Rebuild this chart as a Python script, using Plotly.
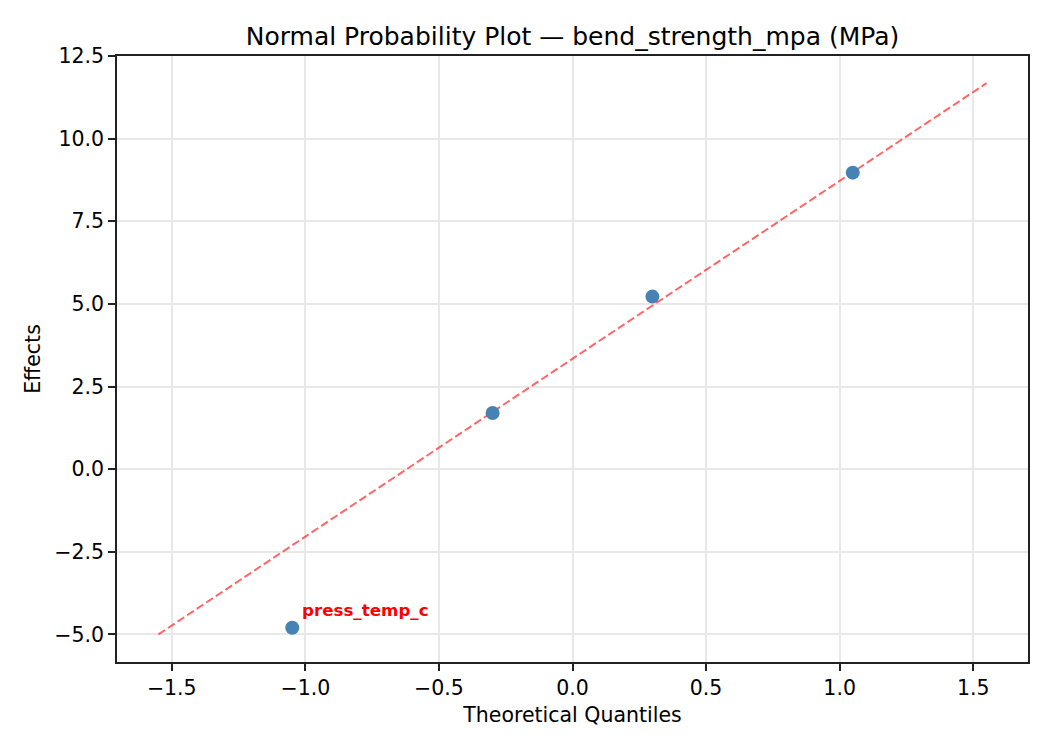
import plotly.graph_objects as go

# theoretical quantiles and effects
quantiles = [-1.049, -0.299, 0.299, 1.049]
effects = [-4.80, 1.70, 5.22, 8.97]
point_labels = ['press_temp_c', '', '', '']

# reference line end points
line_x = [-1.55, 1.55]
line_y = [-5.0, 11.68]

x_ticks = [-1.5, -1.0, -0.5, 0.0, 0.5, 1.0, 1.5]
y_ticks = [-5.0, -2.5, 0.0, 2.5, 5.0, 7.5, 10.0, 12.5]

FONT = 'DejaVu Sans'
# the page puts the figure 8px in from the corner, so the margins take that off
OFF = 8

fig = go.Figure()

fig.add_trace(go.Scatter(
    x=line_x, y=line_y, mode='lines',
    line=dict(color='rgba(255,0,0,0.6)', width=2, dash='8px,3.5px'),
    showlegend=False, hoverinfo='skip'))

fig.add_trace(go.Scatter(
    x=quantiles, y=effects, mode='markers',
    marker=dict(color='#4682b4', size=14),
    showlegend=False))

# label the significant effect
for q, e, lab in zip(quantiles, effects, point_labels):
    if lab:
        fig.add_annotation(x=q, y=e, text='<b>' + lab + '</b>', showarrow=False,
                           xanchor='left', yanchor='bottom', xshift=8, yshift=6,
                           font=dict(family=FONT, size=16.7, color='red'))

axis_common = dict(
    showline=True, linecolor='#222222', linewidth=1.7, mirror=True,
    ticks='outside', ticklen=7, tickwidth=1.7, tickcolor='#222222',
    showgrid=True, gridcolor='#e8e8e8', gridwidth=1.5,
    zeroline=False, tickfont=dict(family=FONT, size=20.5, color='black'))

fig.update_xaxes(range=[-1.705, 1.705], tickvals=x_ticks,
                 ticktext=[f'{v:.1f}'.replace('-', '\u2212') for v in x_ticks],
                 title=dict(text='Theoretical Quantiles', font=dict(family=FONT, size=20.5, color='black'), standoff=8),
                 **axis_common)
fig.update_yaxes(range=[-5.835, 12.5], tickvals=y_ticks,
                 ticktext=[f'{v:.1f}'.replace('-', '\u2212') for v in y_ticks],
                 title=dict(text='Effects', font=dict(family=FONT, size=20.5, color='black'), standoff=8),
                 **axis_common)

fig.update_layout(
    width=1050, height=750,
    margin=dict(l=117 - OFF, r=22 + OFF, t=56 - OFF, b=88 + OFF),
    paper_bgcolor='white', plot_bgcolor='white',
    title=dict(text='Normal Probability Plot \u2014 bend_strength_mpa (MPa)',
               x=0.5, xref='paper', y=1 - (36 - OFF) / 750, yref='container', yanchor='middle',
               font=dict(family=FONT, size=25, color='black')),
)

fig.write_html('out.html')
